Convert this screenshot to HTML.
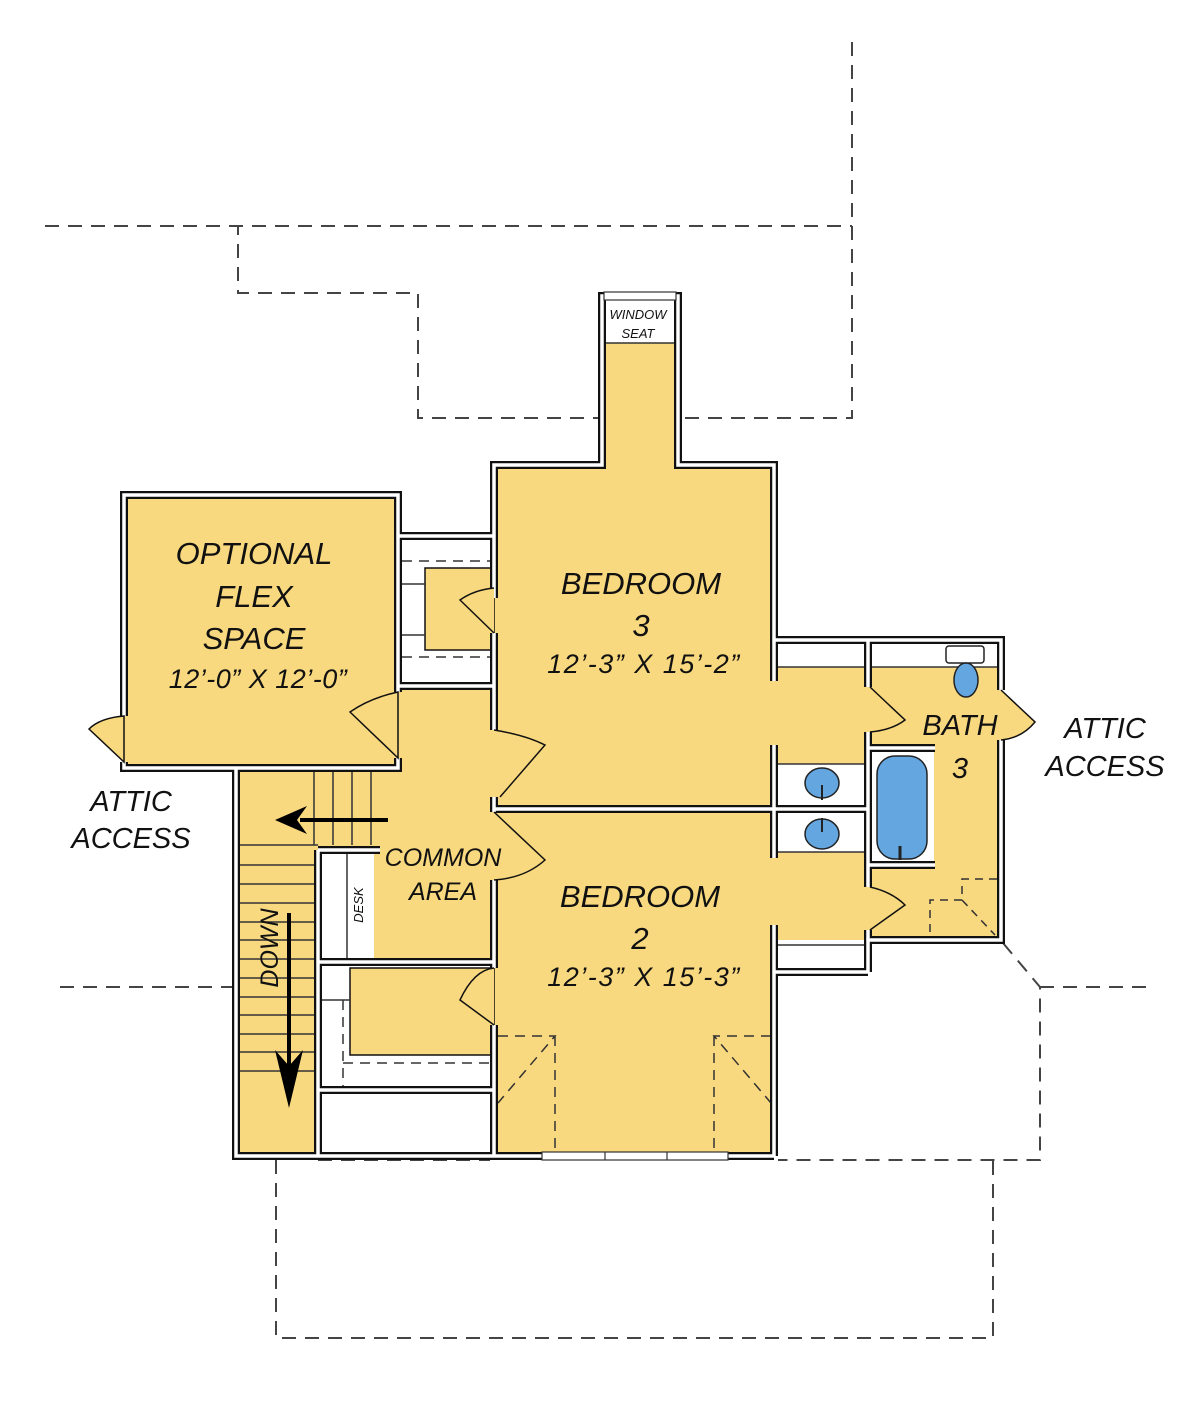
<!DOCTYPE html>
<html><head><meta charset="utf-8"><style>
html,body{margin:0;padding:0;background:#fff;overflow:hidden}
svg{display:block}
text{font-family:"Liberation Sans",sans-serif;font-style:italic;fill:#111}
</style></head><body>
<svg width="1200" height="1421" viewBox="0 0 1200 1421" xmlns="http://www.w3.org/2000/svg">
<defs>
<g id="walls">
<path d="M124,716 V495 H398 V692"/>
<path d="M124,762 V768 H398 V758"/>
<path d="M236,768 V1156 H494"/>
<path d="M318,850 V1156"/>
<path d="M318,850 H380"/>
<path d="M318,962 H494"/>
<path d="M318,1090 H494"/>
<path d="M398,536 H494"/>
<path d="M398,686 H494"/>
<path d="M494,598 V465 H602 V296 H678 V465 H774 V681"/>
<path d="M494,633 V730"/>
<path d="M494,797 V812"/>
<path d="M494,880 V968"/>
<path d="M494,1025 V1156"/>
<path d="M494,809 H774"/>
<path d="M774,1156 H494"/>
<path d="M774,640 H1001 V690"/>
<path d="M1001,740 V940 H868 V972"/>
<path d="M774,745 V858"/>
<path d="M774,925 V1156"/>
<path d="M868,640 V687"/>
<path d="M868,732 V887"/>
<path d="M868,930 V940"/>
<path d="M774,809 H868"/>
<path d="M868,748 H935"/>
<path d="M868,865 H935"/>
<path d="M774,972 H868"/>
</g>
</defs>

<g fill="none" stroke="#444" stroke-width="2" stroke-dasharray="14,9">
<path d="M45,226 H852"/>
<path d="M852,42 V418 H418 V293 H238 V226"/>
<path d="M60,987 H232"/>
<path d="M1040,987 H1148"/>
<path d="M1003,943 L1040,987 V1160 H778"/>
<path d="M318,1160 H490"/>
<path d="M276,1160 V1338 H993 V1160"/>
</g>

<g fill="#F9D97F">
<rect x="124" y="495" width="274" height="273"/>
<rect x="236" y="686" width="258" height="470"/>
<polygon points="494,465 602,465 602,343 678,343 678,465 774,465 774,1156 494,1156"/>
<rect x="774" y="640" width="227" height="300"/>
</g>
<g fill="#fff">
<rect x="602" y="296" width="76" height="47"/>
<rect x="398" y="536" width="96" height="150"/>
<rect x="318" y="850" width="56" height="112"/>
<rect x="318" y="962" width="176" height="128"/>
<rect x="318" y="1090" width="176" height="66"/>
<rect x="774" y="640" width="94" height="27"/>
<rect x="868" y="640" width="133" height="27"/>
<rect x="774" y="764" width="94" height="88"/>
<rect x="774" y="945" width="94" height="27"/>
<rect x="868" y="748" width="66" height="117"/>
</g>
<g fill="#F9D97F" stroke="#111" stroke-width="1.5">
<rect x="425" y="568" width="69" height="82"/>
<rect x="350" y="968" width="144" height="87"/>
</g>
<g stroke="#333" stroke-width="1.5" fill="none">
<path d="M402,584 H425 M402,635 H425"/>
<path d="M402,561 H494 M402,657 H494" stroke-dasharray="10,7"/>
<path d="M343,1000 V1088 M343,1063 H494" stroke-dasharray="10,7"/>
<path d="M320,1000 H350"/>
<path d="M347,852 V960"/>
<path d="M602,343 H678"/>
<path d="M240,845 H318 M240,865 H318 M240,884 H318 M240,903 H318 M240,922 H318 M240,940 H318 M240,959 H318 M240,978 H318 M240,997 H318 M240,1015 H318 M240,1034 H318 M240,1052 H318 M240,1071 H318"/>
<path d="M314,772 V845 M333,772 V845 M352,772 V845 M371,772 V845"/>
<path d="M778,667 H868 M778,764 H868 M778,852 H868 M778,945 H868 M871,667 H998"/>
<path d="M498,1036 H555 L498,1103 M555,1036 V1156" stroke-dasharray="10,7"/>
<path d="M771,1036 H714 L771,1103 M714,1036 V1156" stroke-dasharray="10,7"/>
<path d="M997,879 H962 V900 H930 V938 M962,900 L995,935" stroke-dasharray="8,6"/>
</g>

<use href="#walls" fill="none" stroke="#111" stroke-width="8"/>
<use href="#walls" fill="none" stroke="#fff" stroke-width="3.5"/>

<g fill="#fff" stroke="#333" stroke-width="1.2">
<rect x="542" y="1152" width="186" height="8"/>
<path d="M605,1152 V1160 M667,1152 V1160"/>
<rect x="604" y="292" width="72" height="8"/>
</g>

<g fill="#F9D97F" stroke="#111" stroke-width="1.5">
<path d="M124,716 Q100,718 89,729 L124,762 Z"/>
<path d="M398,692 Q370,698 350,712 L398,758 Z"/>
<path d="M494,633 L460,600 Q474,590 494,588"/>
<path d="M494,730 Q525,735 545,745 L500,797"/>
<path d="M494,812 L545,860 Q525,878 494,880"/>
<path d="M494,1025 L460,1000 Q474,970 494,968"/>
<path d="M870,687 L905,720 Q892,730 870,732"/>
<path d="M870,887 Q892,892 905,905 L870,930"/>
<path d="M1001,690 L1035,722 Q1022,738 1001,740"/>
</g>

<g stroke="#222" stroke-width="1.5">
<rect x="946" y="646" width="38" height="17" rx="3" fill="#fff"/>
<ellipse cx="966" cy="680" rx="12" ry="17" fill="#64A6E0"/>
<rect x="877" y="756" width="50" height="103" rx="18" fill="#64A6E0"/>
<path d="M900,846 V860" stroke-width="3"/>
<ellipse cx="822" cy="783" rx="17" ry="15" fill="#64A6E0"/>
<ellipse cx="822" cy="834" rx="17" ry="15" fill="#64A6E0"/>
<path d="M822,785 V800 M822,818 V832" stroke-width="2"/>
</g>

<g stroke="#000" stroke-width="4" fill="#000">
<path d="M388,820 H300"/>
<polygon points="275,820 307,806 297,820 307,834" stroke="none"/>
<path d="M289,913 V1080"/>
<polygon points="289,1108 275,1050 289,1066 303,1050" stroke="none"/>
</g>

<g text-anchor="middle">
<text x="254" y="564" font-size="31">OPTIONAL</text>
<text x="254" y="607" font-size="31">FLEX</text>
<text x="254" y="649" font-size="31">SPACE</text>
<text x="258" y="688" font-size="27" letter-spacing="0.5">12’-0” X 12’-0”</text>
<text x="641" y="594" font-size="31">BEDROOM</text>
<text x="641" y="636" font-size="31">3</text>
<text x="644" y="673" font-size="27" letter-spacing="1.5">12’-3”  X 15’-2”</text>
<text x="640" y="907" font-size="31">BEDROOM</text>
<text x="640" y="949" font-size="31">2</text>
<text x="644" y="986" font-size="27" letter-spacing="1.5">12’-3”  X 15’-3”</text>
<text x="960" y="735" font-size="29">BATH</text>
<text x="960" y="778" font-size="29">3</text>
<text x="1105" y="738" font-size="29">ATTIC</text>
<text x="1105" y="776" font-size="29">ACCESS</text>
<text x="131" y="811" font-size="29">ATTIC</text>
<text x="131" y="848" font-size="29">ACCESS</text>
<text x="443" y="866" font-size="25">COMMON</text>
<text x="443" y="900" font-size="25">AREA</text>
<text x="638" y="319" font-size="13">WINDOW</text>
<text x="638" y="338" font-size="13">SEAT</text>
</g>
<text transform="translate(363,905) rotate(-90)" text-anchor="middle" font-size="13">DESK</text>
<text transform="translate(278,948) rotate(-90)" text-anchor="middle" font-size="25">DOWN</text>
</svg>
</body></html>
